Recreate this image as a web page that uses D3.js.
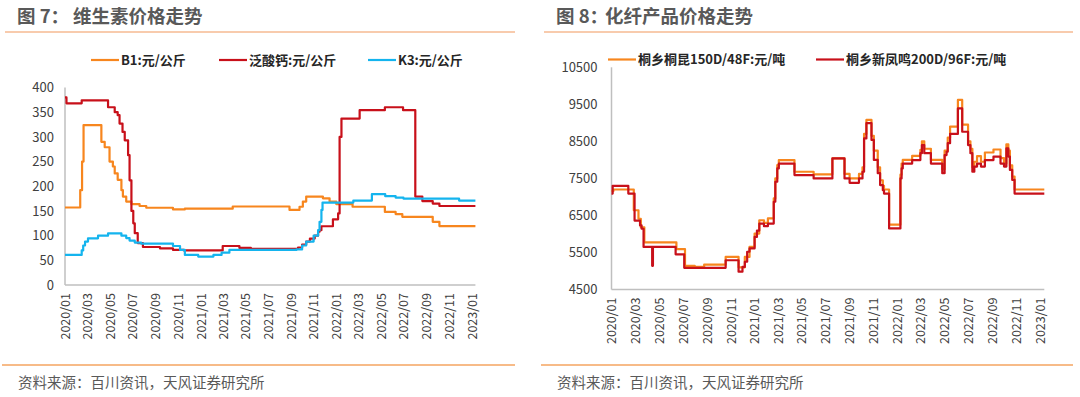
<!DOCTYPE html>
<html>
<head>
<meta charset="utf-8">
<script src="https://cdn.jsdelivr.net/npm/d3@7"></script>
<style>
  body { margin: 0; background: #fff; }
  svg text { font-family: "Noto Sans CJK SC", "Noto Sans", sans-serif; }
</style>
</head>
<body>
<div id="chart"></div>
<script>

// x tick labels shared by both panels
const xTickLabels = ['2020/01', '2020/03', '2020/05', '2020/07', '2020/09', '2020/11',
    '2021/01', '2021/03', '2021/05', '2021/07', '2021/09', '2021/11',
    '2022/01', '2022/03', '2022/05', '2022/07', '2022/09', '2022/11', '2023/01'];

// 图7 维生素价格走势
const vitTicks = [0, 50, 100, 150, 200, 250, 300, 350, 400];
const vitSeriesNames = ['B1:元/公斤', '泛酸钙:元/公斤', 'K3:元/公斤'];

const b1Dates = ['2020-01-01', '2020-02-11', '2020-02-16', '2020-02-20', '2020-04-08', '2020-04-17',
    '2020-04-30', '2020-05-09', '2020-05-14', '2020-05-22', '2020-06-01', '2020-06-05', '2020-06-14',
    '2020-06-28', '2020-07-20', '2020-08-07', '2020-10-18', '2020-11-19', '2021-03-28', '2021-08-28',
    '2021-09-24', '2021-10-03', '2021-10-12', '2021-11-26', '2021-12-14', '2022-01-01', '2022-02-14',
    '2022-05-12', '2022-06-10', '2022-06-28', '2022-09-18', '2022-10-06', '2023-01-11'];
const b1Values = [157, 192, 250, 324, 290, 279,
    250, 240, 226, 213, 192, 179, 169,
    164, 160, 156.5, 153, 154.5, 159, 152,
    158.5, 169, 179, 175.5, 169, 164, 158.5,
    148, 143.7, 138, 128, 119.4, 119.4];

const pantoDates = ['2020-01-01', '2020-01-05', '2020-02-15', '2020-04-26', '2020-05-14', '2020-05-22',
    '2020-05-27', '2020-06-04', '2020-06-10', '2020-06-19', '2020-06-23', '2020-06-28', '2020-07-03',
    '2020-07-07', '2020-07-15', '2020-07-29', '2020-09-13', '2020-10-18', '2020-11-16', '2021-03-01',
    '2021-04-15', '2021-05-16', '2021-09-20', '2021-10-01', '2021-10-12', '2021-10-22', '2021-11-04',
    '2021-11-13', '2021-11-17', '2021-11-22', '2021-12-23', '2022-01-06', '2022-01-10', '2022-01-15',
    '2022-03-05', '2022-05-12', '2022-06-30', '2022-08-02', '2022-08-21', '2022-09-18', '2022-10-06',
    '2023-01-11'];
const pantoValues = [380, 368, 374, 360, 350, 344,
    327, 310, 293, 263, 212, 150, 125,
    105, 85, 77, 74, 71, 70, 79,
    75, 73, 76, 82, 88, 94, 100,
    108, 111, 119, 133, 145, 300, 337,
    354, 360, 354, 179, 170, 165, 160,
    160];

const k3Dates = ['2020-01-01', '2020-02-15', '2020-02-19', '2020-02-24', '2020-03-03', '2020-03-30',
    '2020-04-26', '2020-06-01', '2020-06-14', '2020-06-23', '2020-07-07', '2020-07-24', '2020-10-18',
    '2020-11-06', '2020-11-19', '2020-12-25', '2021-02-04', '2021-02-26', '2021-03-19', '2021-09-16',
    '2021-10-01', '2021-10-12', '2021-11-01', '2021-11-13', '2021-11-17', '2021-11-22', '2021-11-25',
    '2022-02-16', '2022-04-07', '2022-05-13', '2022-06-10', '2022-07-01', '2022-11-28', '2023-01-11'];
const k3Values = [61, 70, 80, 88, 94.5, 100,
    104.6, 100, 95, 90, 86, 84, 79,
    71, 61, 57.5, 61, 65.5, 71, 72,
    80, 88, 100, 111, 128, 152, 167,
    171, 184, 180, 177, 175, 171, 171];

// 图8 化纤产品价格走势
const fiberTicks = [4500, 5500, 6500, 7500, 8500, 9500, 10500];
const fiberSeriesNames = ['桐乡桐昆150D/48F:元/吨', '桐乡新凤鸣200D/96F:元/吨'];

const tongkunDates = ['2020-01-01', '2020-01-06', '2020-02-27', '2020-03-10', '2020-03-16', '2020-03-25',
    '2020-06-15', '2020-07-07', '2020-08-01', '2020-08-25', '2020-10-19', '2020-11-21', '2020-12-07',
    '2020-12-19', '2021-01-01', '2021-01-13', '2021-01-25', '2021-02-04', '2021-02-19', '2021-02-23',
    '2021-02-28', '2021-03-04', '2021-04-13', '2021-06-01', '2021-07-19', '2021-08-19', '2021-09-01',
    '2021-09-25', '2021-10-04', '2021-10-08', '2021-10-14', '2021-10-27', '2021-11-02', '2021-11-12',
    '2021-11-18', '2021-11-25', '2021-11-28', '2021-12-11', '2022-01-09', '2022-01-12', '2022-01-15',
    '2022-02-08', '2022-03-01', '2022-03-05', '2022-03-11', '2022-03-28', '2022-04-26', '2022-05-02',
    '2022-05-10', '2022-05-16', '2022-06-05', '2022-06-16', '2022-07-01', '2022-07-07', '2022-07-12',
    '2022-07-17', '2022-07-24', '2022-08-03', '2022-08-13', '2022-09-04', '2022-09-22', '2022-10-01',
    '2022-10-07', '2022-10-12', '2022-10-16', '2022-10-22', '2022-10-28', '2023-01-12'];
const tongkunValues = [7160, 7200, 6640, 6410, 6180, 5770,
    5590, 5140, 5110, 5170, 5380, 5100, 5380,
    5650, 6010, 6370, 6300, 6420, 6960, 7500,
    7860, 7995, 7680, 7610, 8040, 7620, 7500,
    7620, 7800, 8700, 9080, 8650, 8250, 7800,
    7450, 7300, 7200, 6250, 7600, 7900, 8000,
    8110, 8270, 8500, 8300, 8000, 7750, 8250,
    8600, 8900, 9620, 8950, 8500, 8300, 7800,
    7950, 8100, 7950, 8200, 8280, 8050, 7900,
    8420, 8250, 7850, 7550, 7200, 7200];

const xinfengDates = ['2020-01-01', '2020-01-04', '2020-02-13', '2020-02-29', '2020-03-14', '2020-03-18',
    '2020-03-23', '2020-04-14', '2020-04-16', '2020-06-13', '2020-07-05', '2020-10-19', '2020-11-21',
    '2020-12-01', '2020-12-07', '2020-12-13', '2020-12-19', '2021-01-01', '2021-01-07', '2021-01-13',
    '2021-01-25', '2021-02-04', '2021-02-19', '2021-02-23', '2021-02-28', '2021-03-04', '2021-04-13',
    '2021-06-01', '2021-07-19', '2021-08-19', '2021-09-01', '2021-09-25', '2021-10-04', '2021-10-08',
    '2021-10-14', '2021-10-27', '2021-11-02', '2021-11-12', '2021-11-18', '2021-11-25', '2021-11-28',
    '2021-12-11', '2022-01-09', '2022-01-12', '2022-01-15', '2022-02-08', '2022-03-01', '2022-03-05',
    '2022-03-11', '2022-03-28', '2022-04-26', '2022-05-02', '2022-05-07', '2022-05-10', '2022-05-16',
    '2022-06-05', '2022-06-16', '2022-07-01', '2022-07-07', '2022-07-12', '2022-07-17', '2022-07-24',
    '2022-08-03', '2022-08-13', '2022-09-04', '2022-09-22', '2022-10-01', '2022-10-07', '2022-10-12',
    '2022-10-16', '2022-10-22', '2022-10-28', '2023-01-12'];
const xinfengValues = [7090, 7300, 7090, 6360, 6230, 6140,
    5650, 5140, 5650, 5450, 5085, 5290, 4980,
    5110, 5250, 5520, 5610, 5920, 6090, 6280,
    6210, 6280, 6870, 7410, 7770, 7900, 7590,
    7500, 8040, 7500, 7380, 7500, 7680, 8580,
    8990, 8540, 8000, 7640, 7320, 7180, 7090,
    6150, 7500, 7770, 7900, 7995, 8180, 8400,
    8180, 7900, 7640, 8130, 8220, 8450, 8700,
    9390, 8760, 8400, 8180, 7680, 7820, 7900,
    7820, 7995, 8090, 7900, 7820, 8310, 8090,
    7730, 7460, 7090, 7090];

const parseDate = d3.timeParse('%Y-%m-%d');
const parseMonth = d3.timeParse('%Y/%m');

const toPoints = (dates, values) => dates.map((d, i) => ({date: parseDate(d), value: values[i]}));

const svg = d3.select('#chart')
    .append('svg')
    .attr('width', 1080)
    .attr('height', 397);

svg.append('rect').attr('width', 1080).attr('height', 397).attr('fill', '#fff');

// title, rules and source note for one panel
const drawFrame = (left, right, figLabel, title, titleX) => {
    svg.append('text')
        .attr('x', left + 12)
        .attr('y', 23)
        .attr('font-size', 18.5)
        .attr('font-weight', 'bold')
        .attr('fill', '#595959')
        .text(figLabel);
    svg.append('text')
        .attr('x', titleX)
        .attr('y', 23)
        .attr('font-size', 18.5)
        .attr('font-weight', 'bold')
        .attr('fill', '#595959')
        .text(title);

    svg.append('line')
        .attr('x1', left).attr('x2', right)
        .attr('y1', 32).attr('y2', 32)
        .style('stroke', '#F8CBAD')
        .style('stroke-width', 2);

    svg.append('line')
        .attr('x1', left - 3).attr('x2', right)
        .attr('y1', 365).attr('y2', 365)
        .style('stroke', '#F4A460')
        .style('stroke-width', 1.5);

    svg.append('text')
        .attr('x', left + 13)
        .attr('y', 388)
        .attr('font-size', 14.5)
        .attr('fill', '#595959')
        .text('资料来源：百川资讯，天风证券研究所');
};

const drawPanel = opts => {
    const x = d3.scaleTime()
        .domain([parseMonth('2020/01'), parseMonth('2023/01')])
        .range(opts.xRange);
    const y = d3.scaleLinear()
        .domain(d3.extent(opts.yTicks))
        .range(opts.yRange);

    const g = svg.append('g');
    const lastDate = d3.max(opts.series, s => s.points[s.points.length - 1].date);

    // axis lines
    g.append('line')
        .attr('x1', x.range()[0]).attr('x2', x.range()[0])
        .attr('y1', y.range()[0]).attr('y2', y.range()[1])
        .style('stroke', '#BFBFBF')
        .style('stroke-width', 1.5);
    g.append('line')
        .attr('x1', x.range()[0]).attr('x2', x(lastDate))
        .attr('y1', y.range()[0]).attr('y2', y.range()[0])
        .style('stroke', '#BFBFBF')
        .style('stroke-width', 1.5);

    // Y axis labels
    const yAxis = g.append('g')
        .attr('transform', `translate(${x.range()[0]}, 0)`)
        .call(d3.axisLeft(y).tickValues(opts.yTicks).tickFormat(d3.format('d')).tickSize(0).tickPadding(opts.yPad));
    yAxis.select('.domain').remove();
    yAxis.selectAll('text')
        .attr('font-size', 13)
        .attr('font-family', '"Noto Sans", sans-serif')
        .attr('fill', '#404040');

    // X axis labels, rotated
    const xAxis = g.append('g')
        .attr('transform', `translate(0, ${y.range()[0]})`)
        .call(d3.axisBottom(x)
            .tickValues(xTickLabels.map(parseMonth))
            .tickFormat(d3.timeFormat('%Y/%m'))
            .tickSize(0));
    xAxis.select('.domain').remove();
    xAxis.selectAll('text')
        .attr('font-size', 12.5)
        .attr('font-family', '"Noto Sans", sans-serif')
        .attr('fill', '#404040')
        .attr('text-anchor', 'end')
        .attr('transform', 'rotate(-90)')
        .attr('x', -8)
        .attr('y', 0)
        .attr('dy', '0.35em');

    // lines
    const line = d3.line()
        .curve(d3.curveStepAfter)
        .x(d => x(d.date))
        .y(d => y(d.value));

    opts.series.forEach(s => {
        g.append('path')
            .datum(s.points)
            .attr('fill', 'none')
            .style('stroke', s.color)
            .style('stroke-width', 2.2)
            .style('stroke-linejoin', 'round')
            .attr('d', line);
    });

    // legend
    opts.series.forEach((s, i) => {
        const lx = opts.legendX[i];
        g.append('line')
            .attr('x1', lx).attr('x2', lx + 28)
            .attr('y1', opts.legendY).attr('y2', opts.legendY)
            .style('stroke', s.color)
            .style('stroke-width', 2.2);
        g.append('text')
            .attr('x', lx + 30)
            .attr('y', opts.legendY)
            .attr('dy', '0.35em')
            .attr('font-size', 13)
            .attr('font-weight', 'bold')
            .attr('fill', '#262626')
            .text(s.name);
    });
};

drawFrame(5, 515, '图 7：', '维生素价格走势', 73);
drawFrame(544, 1073, '图 8：', '化纤产品价格走势', 605);

drawPanel({
    xRange: [65, 471.7],
    yRange: [285, 87.5],
    yTicks: vitTicks,
    yPad: 11,
    legendX: [91, 219, 368],
    legendY: 60,
    series: [
        {name: vitSeriesNames[0], color: '#F7861E', points: toPoints(b1Dates, b1Values)},
        {name: vitSeriesNames[1], color: '#C8101A', points: toPoints(pantoDates, pantoValues)},
        {name: vitSeriesNames[2], color: '#14B4EE', points: toPoints(k3Dates, k3Values)}
    ]
});

drawPanel({
    xRange: [611.5, 1040],
    yRange: [289.5, 67.3],
    yTicks: fiberTicks,
    yPad: 14,
    legendX: [608, 816],
    legendY: 59.5,
    series: [
        {name: fiberSeriesNames[0], color: '#F7861E', points: toPoints(tongkunDates, tongkunValues)},
        {name: fiberSeriesNames[1], color: '#C8101A', points: toPoints(xinfengDates, xinfengValues)}
    ]
});

</script>
</body>
</html>
